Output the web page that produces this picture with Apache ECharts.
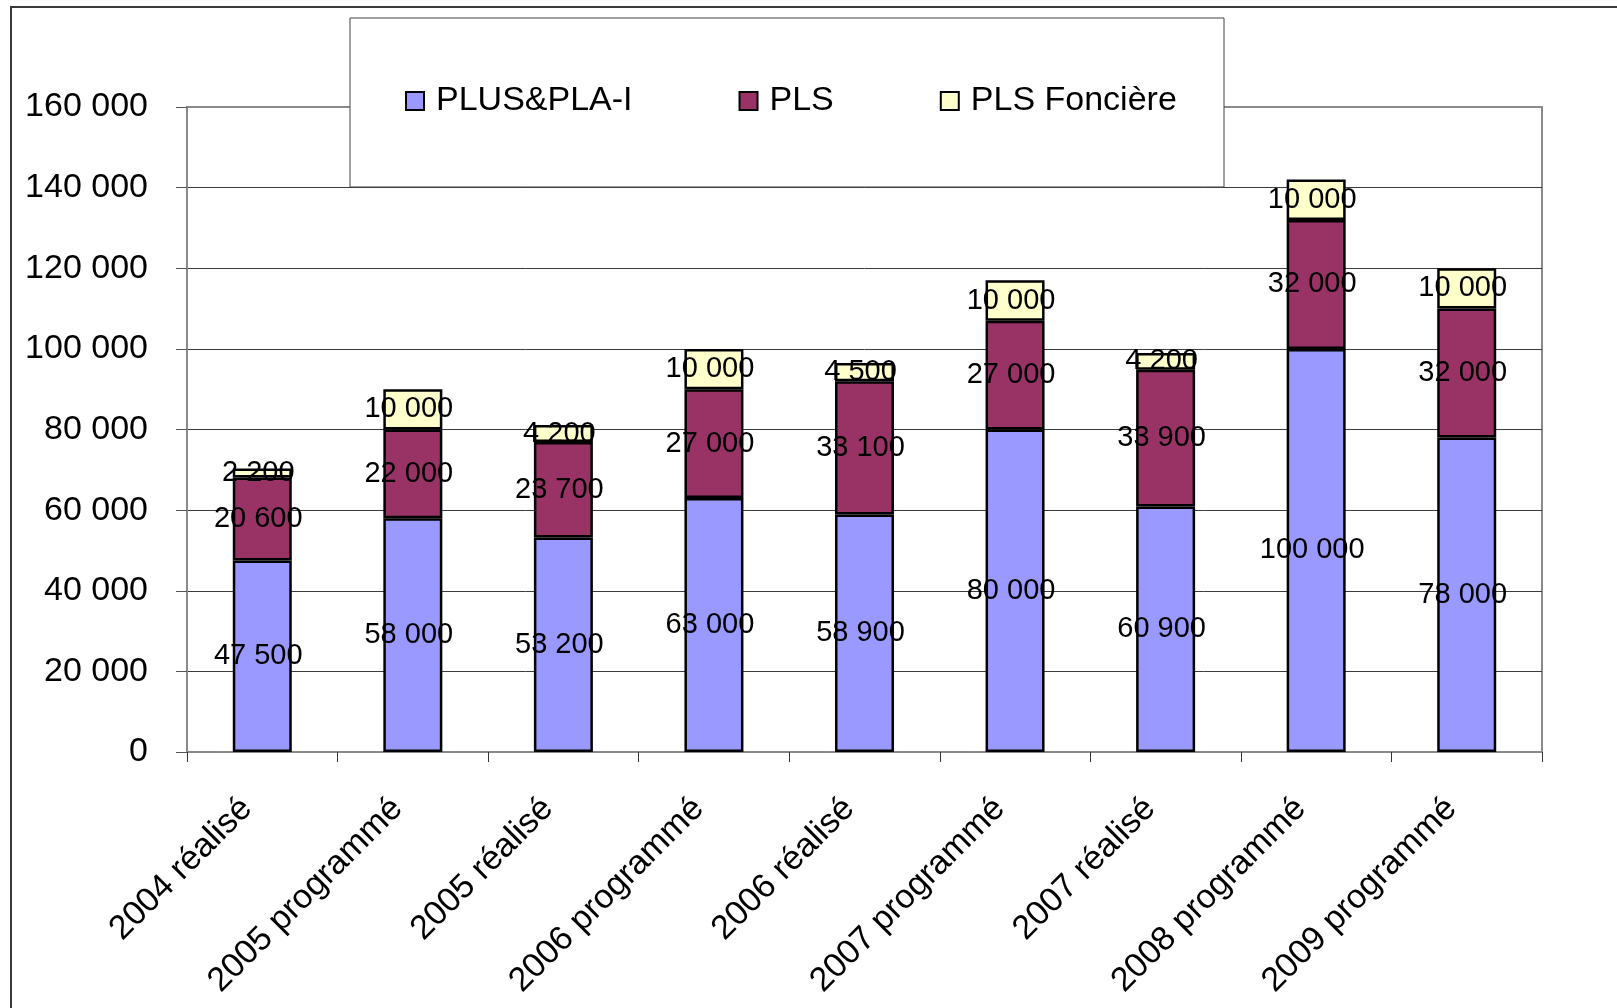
<!DOCTYPE html>
<html>
<head>
<meta charset="utf-8">
<script src="https://cdn.jsdelivr.net/npm/echarts@6/dist/echarts.min.js"></script>
<style>
  html, body { margin: 0; padding: 0; background: #fff; }
  #chart { width: 1617px; height: 1008px; }
</style>
</head>
<body>
<div id="chart"></div>
<script>
// Logements financés par type de prêt
const categories = [
  '2004 réalisé', '2005 programmé', '2005 réalisé', '2006 programmé',
  '2006 réalisé', '2007 programmé', '2007 réalisé', '2008 programmé', '2009 programmé'
];
const seriesNames = ['PLUS&PLA-I', 'PLS', 'PLS Foncière'];
const plusPlai   = [47500, 58000, 53200, 63000, 58900, 80000, 60900, 100000, 78000];
const pls        = [20600, 22000, 23700, 27000, 33100, 27000, 33900, 32000, 32000];
const plsFonc    = [2200, 10000, 4200, 10000, 4500, 10000, 4200, 10000, 10000];
const yTicks     = { min: 0, max: 160000, interval: 20000 };

const colors = ['#9999FF', '#993366', '#FFFFCC'];
const FONT = 'Liberation Sans, Arial, sans-serif';

function fmt(v) {
  return String(v).replace(/\B(?=(\d{3})+(?!\d))/g, ' ');
}

const chart = echarts.init(document.getElementById('chart'), null, { renderer: 'canvas' });

const series = [plusPlai, pls, plsFonc].map((data, i) => ({
  name: seriesNames[i],
  type: 'bar',
  stack: 'total',
  data: data,
  barWidth: 59,
  itemStyle: { color: colors[i], borderColor: '#000', borderWidth: 2.5 },
  label: {
    show: true,
    position: 'inside',
    offset: [-4, 0],
    color: '#000',
    fontFamily: FONT,
    fontSize: 29,
    formatter: p => fmt(p.value)
  },
  emphasis: { disabled: true }
}));

chart.setOption({
  animation: false,
  backgroundColor: '#fff',
  textStyle: { fontFamily: FONT },
  grid: {
    left: 187, right: 75, top: 107, bottom: 256,
    show: true, borderColor: '#8a8a8a', borderWidth: 2, backgroundColor: 'transparent'
  },
  graphic: [
    {
      type: 'rect', z: -10, silent: true,
      shape: { x: 11, y: 7, width: 1700, height: 1100 },
      style: { fill: 'none', stroke: '#3a3a3a', lineWidth: 2 }
    },
    {
      type: 'rect', z: 3, silent: true,
      shape: { x: 350, y: 18, width: 874, height: 169 },
      style: { fill: '#fff', stroke: '#444', lineWidth: 1 }
    }
  ],
  legend: {
    data: seriesNames,
    left: 405, top: 84,
    padding: 0,
    itemWidth: 18, itemHeight: 18,
    itemGap: 106,
    icon: 'rect',
    itemStyle: { borderColor: '#000', borderWidth: 2 },
    textStyle: { fontFamily: FONT, fontSize: 34, color: '#000', padding: [0, 0, 0, 7] },
    selectedMode: false,
    z: 5
  },
  xAxis: {
    type: 'category',
    data: categories,
    boundaryGap: true,
    axisLine: { show: true, lineStyle: { color: '#8a8a8a', width: 2 } },
    axisTick: { show: true, alignWithLabel: false, length: 10, lineStyle: { color: '#333', width: 1 } },
    axisLabel: {
      interval: 0, rotate: 45, margin: 36,
      fontFamily: FONT, fontSize: 34, color: '#000',
      padding: [0, 22, 0, 0]
    },
    splitLine: { show: false }
  },
  yAxis: {
    type: 'value',
    min: yTicks.min, max: yTicks.max, interval: yTicks.interval,
    axisLine: { show: true, lineStyle: { color: '#8a8a8a', width: 2 } },
    axisTick: { show: true, length: 11, lineStyle: { color: '#555', width: 1 } },
    axisLabel: {
      margin: 39, fontFamily: FONT, fontSize: 34, color: '#000',
      formatter: v => fmt(v)
    },
    splitLine: { show: true, showMinLine: false, showMaxLine: false, lineStyle: { color: '#3c3c3c', width: 1 } }
  },
  series: series
});
</script>
</body>
</html>
